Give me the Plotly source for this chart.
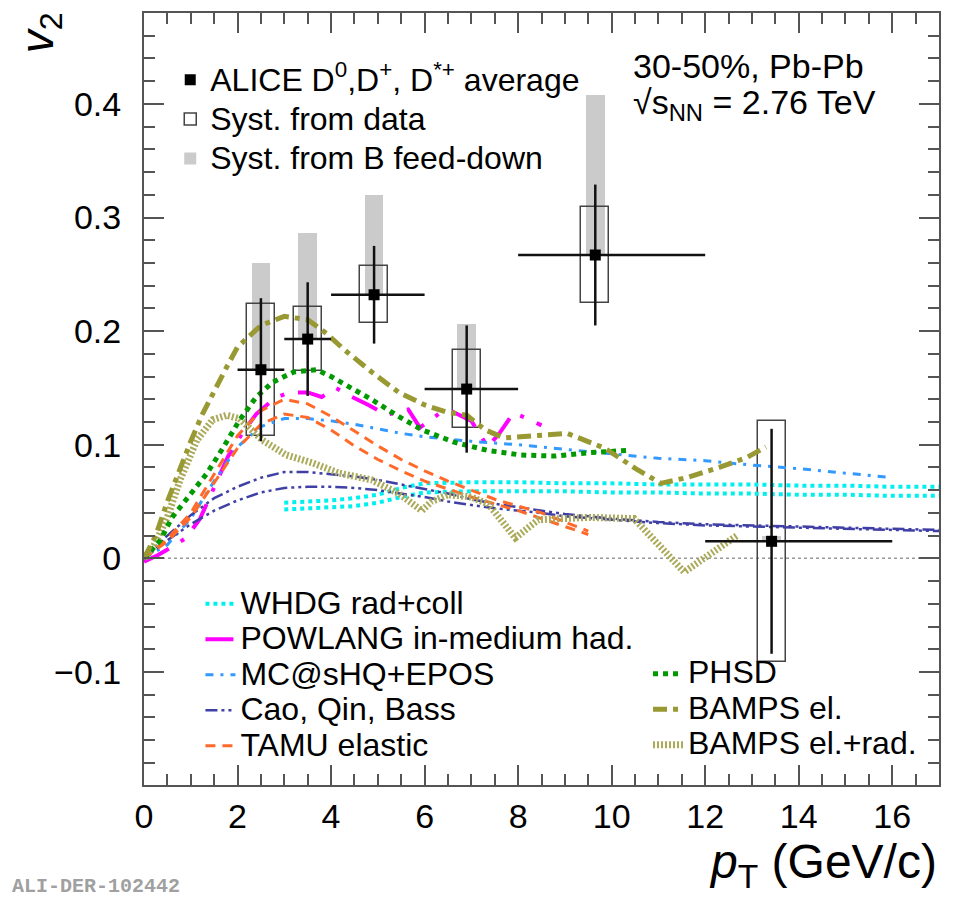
import plotly.graph_objects as go

# ---------------- data ----------------
pt = [2.5, 3.5, 4.92, 6.9, 9.65, 13.42]
pt_lo = [2, 3, 4, 6, 8, 12]
pt_hi = [3, 4, 6, 8, 12, 16]
v2 = [0.166, 0.193, 0.232, 0.149, 0.267, 0.015]
stat = [0.063, 0.050, 0.043, 0.056, 0.062, 0.099]
syst = [0.058, 0.028, 0.025, 0.034, 0.042, 0.106]
fd_up = [0.260, 0.286, 0.320, 0.206, 0.408, 0.020]

whdg_x = [3, 3.5, 4, 4.5, 5, 5.5, 6, 7, 8, 9, 10, 11, 12, 13, 14, 15, 16, 17]
whdg_hi = [0.049, 0.050, 0.051, 0.053, 0.056, 0.062, 0.066, 0.067, 0.067, 0.066, 0.066, 0.065, 0.065, 0.065, 0.064, 0.064, 0.063, 0.063]
whdg_lo = [0.043, 0.044, 0.045, 0.046, 0.049, 0.054, 0.058, 0.059, 0.059, 0.059, 0.058, 0.058, 0.057, 0.057, 0.056, 0.056, 0.055, 0.055]

pow_x = [0.0, 0.3, 0.6, 0.9, 1.2, 1.5, 1.8, 2.1, 2.4, 2.8, 3.1, 3.5, 3.8, 4.1, 4.4, 4.8, 5.2, 5.4, 5.65, 5.9, 6.3, 6.6, 7.0, 7.35, 7.6, 7.9, 8.2, 8.5]
pow_y = [-0.003, 0.003, 0.010, 0.018, 0.035, 0.062, 0.090, 0.110, 0.127, 0.141, 0.146, 0.146, 0.142, 0.150, 0.143, 0.135, 0.126, 0.129, 0.131, 0.115, 0.127, 0.129, 0.121, 0.098, 0.110, 0.128, 0.123, 0.117]

mc_x = [0, 0.5, 1, 1.5, 2, 2.5, 3, 3.5, 4, 4.5, 5, 5.5, 6, 7, 8, 9, 10, 11, 12, 13, 14, 15, 16]
mc_y = [0, 0.012, 0.035, 0.068, 0.098, 0.116, 0.123, 0.123, 0.121, 0.118, 0.114, 0.110, 0.107, 0.103, 0.100, 0.096, 0.092, 0.088, 0.086, 0.082, 0.079, 0.075, 0.071]

cao_x = [0, 0.5, 1, 1.5, 2, 2.5, 3, 3.5, 4, 4.5, 5, 5.5, 6, 6.5, 7, 7.5, 8, 8.5, 9, 10, 11, 12, 13, 14, 15, 16, 17]
cao_hi = [0, 0.020, 0.038, 0.053, 0.063, 0.071, 0.076, 0.076, 0.074, 0.072, 0.069, 0.065, 0.061, 0.057, 0.052, 0.048, 0.045, 0.042, 0.039, 0.035, 0.032, 0.030, 0.029, 0.028, 0.027, 0.026, 0.025]
cao_lo = [0, 0.016, 0.030, 0.042, 0.051, 0.058, 0.062, 0.063, 0.063, 0.062, 0.060, 0.057, 0.054, 0.050, 0.047, 0.044, 0.042, 0.040, 0.037, 0.034, 0.031, 0.029, 0.028, 0.027, 0.026, 0.025, 0.024]

tamu_x = [0, 0.5, 1, 1.5, 2, 2.5, 3, 3.5, 4, 4.5, 5, 5.5, 6, 6.5, 7, 7.5, 8, 8.5, 9, 9.5]
tamu_hi = [0, 0.017, 0.040, 0.074, 0.108, 0.130, 0.140, 0.136, 0.125, 0.112, 0.099, 0.087, 0.077, 0.068, 0.060, 0.052, 0.046, 0.040, 0.032, 0.024]
tamu_lo = [0, 0.015, 0.036, 0.066, 0.097, 0.118, 0.127, 0.124, 0.113, 0.099, 0.087, 0.077, 0.068, 0.061, 0.054, 0.048, 0.042, 0.035, 0.028, 0.021]

phsd_x = [0, 0.35, 0.6, 1.0, 1.35, 1.7, 2.05, 2.4, 2.75, 3.2, 3.7, 4.0, 4.45, 4.9, 5.4, 5.95, 6.65, 7.35, 8.05, 8.8, 9.5, 10.35]
phsd_y = [0, 0.016, 0.036, 0.057, 0.075, 0.098, 0.122, 0.142, 0.155, 0.164, 0.166, 0.160, 0.150, 0.139, 0.126, 0.113, 0.102, 0.095, 0.091, 0.090, 0.093, 0.095]

bel_x = [0, 0.25, 0.5, 0.75, 1.0, 1.25, 1.5, 1.75, 2.0, 2.5, 3.0, 3.5, 3.9, 4.3, 4.9, 5.45, 6.0, 6.45, 6.9, 7.3, 7.7, 8.4, 8.85, 9.05, 9.85, 10.55, 11.05, 11.6, 12.3, 12.9, 13.3]
bel_y = [0, 0.020, 0.050, 0.078, 0.103, 0.127, 0.148, 0.167, 0.186, 0.205, 0.213, 0.210, 0.198, 0.183, 0.163, 0.146, 0.135, 0.129, 0.126, 0.113, 0.106, 0.108, 0.110, 0.110, 0.097, 0.078, 0.066, 0.071, 0.080, 0.089, 0.098]

ber_x = [0, 0.2, 0.5, 0.77, 1.13, 1.47, 1.77, 2.04, 2.53, 3.04, 3.6, 4.17, 4.87, 5.45, 5.94, 6.15, 6.5, 7.0, 7.36, 7.94, 8.43, 9.5, 10.48, 11.55, 12.68]
ber_y = [0, 0.010, 0.036, 0.069, 0.104, 0.122, 0.126, 0.123, 0.104, 0.091, 0.084, 0.075, 0.069, 0.057, 0.042, 0.050, 0.056, 0.054, 0.048, 0.018, 0.034, 0.036, 0.035, -0.012, 0.020]

FONT = "Liberation Sans, Arial, Helvetica, sans-serif"


def big(t, s=32):
    return f"<span style='font-size:{s}px'>{t}</span>"


fig = go.Figure()

# B feed-down systematics (grey)
fig.add_trace(go.Bar(
    x=pt, y=[u - v for u, v in zip(fd_up, v2)], base=v2, width=[0.4] * len(pt),
    marker=dict(color="#cbcbcb", line=dict(color="#9a9a9a", width=0)),
    name=big("Syst. from B feed-down"), legend="legend", legendrank=3,
))


def line(x, y, name, color, width, dash, leg, show=True, rank=1):
    fig.add_trace(go.Scatter(
        x=x, y=y, mode="lines", name=name, line=dict(color=color, width=width, dash=dash),
        legend=leg, showlegend=show, legendrank=rank))


line(whdg_x, whdg_hi, big("WHDG rad+coll"), "#00f0f0", 4, "4px,4px", "legend2", True, 1)
line(whdg_x, whdg_lo, "WHDG lo", "#00f0f0", 4, "4px,4px", "legend2", False)
line(pow_x, pow_y, big("POWLANG in-medium had."), "#ff00ff", 4, "28px,14px,4px,14px", "legend2", True, 2)
line(mc_x, mc_y, big("MC@sHQ+EPOS"), "#3399ff", 3, "8px,7px,3px,7px", "legend2", True, 3)
line(cao_x, cao_hi, big("Cao, Qin, Bass"), "#3f3fa6", 2.5, "12px,4px,3px,4px,3px,4px", "legend2", True, 4)
line(cao_x, cao_lo, "Cao lo", "#3f3fa6", 2.5, "12px,4px,3px,4px,3px,4px", "legend2", False)
line(tamu_x, tamu_hi, big("TAMU elastic"), "#ff6a2a", 3, "10px,7px", "legend2", True, 5)
line(tamu_x, tamu_lo, "TAMU lo", "#ff6a2a", 3, "10px,7px", "legend2", False)
line(ber_x, ber_y, big("BAMPS el.+rad."), "#aaaa5a", 7, "2px,2px", "legend3", True, 3)
line(phsd_x, phsd_y, big("PHSD"), "#009900", 5, "5px,5px", "legend3", True, 1)
line(bel_x, bel_y, big("BAMPS el."), "#999933", 5, "14px,6px,5px,6px", "legend3", True, 2)

# data systematics (open boxes)
fig.add_trace(go.Bar(
    x=pt, y=[2 * s for s in syst], base=[v - s for v, s in zip(v2, syst)], width=[0.6] * len(pt),
    marker=dict(color="rgba(255,255,255,0)", line=dict(color="#444444", width=1.5)),
    name=big("Syst. from data"), legend="legend", legendrank=2,
))

# data points
fig.add_trace(go.Scatter(
    x=pt, y=v2, mode="markers", name=big("ALICE D<sup>0</sup>,D<sup>+</sup>, D<sup>*+</sup> average"),
    marker=dict(symbol="square", size=11, color="black"),
    error_y=dict(type="data", array=stat, thickness=2.5, width=0, color="#111"),
    error_x=dict(type="data", symmetric=False,
                 array=[h - p for h, p in zip(pt_hi, pt)],
                 arrayminus=[p - l for p, l in zip(pt, pt_lo)],
                 thickness=2.5, width=0, color="#111"),
    legend="legend", legendrank=1,
))

axis_col = "#555555"
fig.update_layout(
    width=955, height=899,
    margin=dict(l=144, r=16, t=13, b=114),
    paper_bgcolor="white", plot_bgcolor="white",
    font=dict(family=FONT, color="black"),
    barmode="overlay",
    bargap=0,
    xaxis=dict(range=[0, 17], tickmode="linear", tick0=0, dtick=2,
               ticks="inside", ticklen=20, tickwidth=1.5, tickcolor=axis_col,
               showline=True, linecolor=axis_col, linewidth=2, mirror="allticks",
               showgrid=False, zeroline=False, tickfont=dict(size=34, family=FONT),
               ticklabelstandoff=0,
               minor=dict(tickmode="linear", tick0=0, dtick=0.5, ticks="inside", ticklen=11,
                          tickwidth=1.5, tickcolor=axis_col, showgrid=False)),
    yaxis=dict(range=[-0.1995, 0.48], tickmode="linear", tick0=0, dtick=0.1,
               ticks="inside", ticklen=20, tickwidth=1.5, tickcolor=axis_col,
               showline=True, linecolor=axis_col, linewidth=2, mirror="allticks",
               showgrid=False, zeroline=False, tickfont=dict(size=34, family=FONT),
               ticklabelstandoff=14,
               minor=dict(tickmode="linear", tick0=0, dtick=0.02, ticks="inside", ticklen=11,
                          tickwidth=1.5, tickcolor=axis_col, showgrid=False)),
    legend=dict(x=0.033, y=0.9456, xanchor="left", yanchor="top", bgcolor="rgba(0,0,0,0)",
                font=dict(size=28, family=FONT), traceorder="normal"),
    legend2=dict(x=0.071, y=0.2642, xanchor="left", yanchor="top", bgcolor="rgba(0,0,0,0)",
                 font=dict(size=25, family=FONT), traceorder="normal"),
    legend3=dict(x=0.634, y=0.1736, xanchor="left", yanchor="top", bgcolor="rgba(0,0,0,0)",
                 font=dict(size=25, family=FONT), traceorder="normal"),
    shapes=[dict(type="line", xref="paper", x0=0, x1=1, yref="y", y0=0, y1=0,
                 line=dict(color="#999999", width=1.5, dash="dot"), layer="below")],
    annotations=[
        dict(text="30-50%, Pb-Pb", xref="paper", yref="paper", x=0.612, y=0.931,
             xanchor="left", yanchor="middle", showarrow=False, font=dict(size=34, family=FONT)),
        dict(text="√s<sub>NN</sub> = 2.76 TeV",
             xref="paper", yref="paper", x=0.612, y=0.882,
             xanchor="left", yanchor="middle", showarrow=False, font=dict(size=34, family=FONT)),
        dict(text="<i>v</i><sub>2</sub>", xref="paper", yref="paper", x=-0.131, y=0.975,
             xanchor="center", yanchor="middle", textangle=-90, showarrow=False,
             font=dict(size=46, family=FONT)),
        dict(text="<i>p</i><sub>T</sub> (GeV/c)", xref="paper", yref="paper", x=1.0, y=-0.103,
             xanchor="right", yanchor="middle", showarrow=False, font=dict(size=48, family=FONT)),
        dict(text="<b>ALI-DER-102442</b>", xref="paper", yref="paper", x=-0.1686, y=-0.132,
             xanchor="left", yanchor="middle", showarrow=False,
             font=dict(size=20, family="Liberation Mono, DejaVu Sans Mono, monospace", color="#a0a0a0")),
    ],
)

fig.write_html("out.html")
